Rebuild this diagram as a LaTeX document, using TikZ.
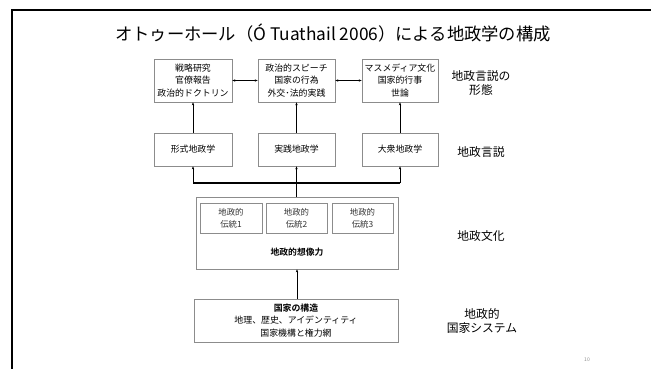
\documentclass[tikz,border=0pt]{standalone}
\usepackage{fontspec}
\setmainfont{Noto Sans CJK JP}[BoldFont={Noto Sans CJK JP Bold}]
\usetikzlibrary{arrows.meta}
\tikzset{
  box/.style={draw=black!45, line width=0.7pt, inner sep=1pt, align=center, font=\fontsize{8.9}{12.5}\selectfont},
  inbox/.style={box, font=\fontsize{8.4}{12}\selectfont, text=black!80},
  lab/.style={align=center, font=\fontsize{11.8}{14.5}\selectfont},
  arr/.style={-{Stealth[length=3pt,width=2.4pt]}, line width=0.5pt},
  darr/.style={{Stealth[length=3pt,width=2.4pt]}-{Stealth[length=3pt,width=2.4pt]}, line width=0.5pt},
  ln/.style={line width=0.5pt}
}
\begin{document}
\begin{tikzpicture}[x=1pt,y=-1pt]
\useasboundingbox (0,0) rectangle (651,369);
\fill[white] (0,0) rectangle (651,369);
% frame
\draw[line width=2pt] (11.5,369) -- (11.5,10.5) -- (651,10.5);
% title
\node[font=\fontsize{17.3}{19}\selectfont] (title) at (333,33) {オトゥーホール（Ó Tuathail 2006）による地政学の構成};
% top row
\node[box, minimum width=78pt, minimum height=43pt] (f1) at (193,80.5) {戦略研究\\官僚報告\\政治的ドクトリン};
\node[box, minimum width=77pt, minimum height=43pt] (f2) at (296.5,80.5) {政治的スピーチ\\国家の行為\\外交･法的実践};
\node[box, minimum width=76pt, minimum height=43pt] (f3) at (400,80.5) {マスメディア文化\\国家的行事\\世論};
% second row
\node[box, minimum width=78pt, minimum height=33pt] (d1) at (193,149.5) {形式地政学};
\node[box, minimum width=77pt, minimum height=33pt] (d2) at (296.5,149.5) {実践地政学};
\node[box, minimum width=76pt, minimum height=33pt] (d3) at (400,149.5) {大衆地政学};
% culture
\node[box, minimum width=202pt, minimum height=72pt] (cult) at (297,233) {};
\node[inbox, minimum width=62pt, minimum height=30pt] (t1) at (231,218) {地政的\\伝統1};
\node[inbox, minimum width=61pt, minimum height=30pt] (t2) at (296.5,218) {地政的\\伝統2};
\node[inbox, minimum width=61pt, minimum height=30pt] (t3) at (362.5,218) {地政的\\伝統3};
\node[font=\fontsize{8.8}{10}\selectfont\bfseries] (imag) at (297,252) {地政的想像力};
% state
\node[box, minimum width=204pt, minimum height=43pt] (state) at (296,320.5) {\textbf{国家の構造}\\地理、歴史、アイデンティティ\\国家機構と権力網};
% right labels
\node[lab] (l1) at (481,83) {地政言説の\\形態};
\node[lab] (l2) at (481,152) {地政言説};
\node[lab] (l3) at (481,236) {地政文化};
\node[lab] (l4) at (482,321) {地政的\\国家システム};
\node[font=\fontsize{5}{6}\selectfont, text=black!45] (pg) at (587,360) {10};
% connectors
\draw[darr] (f1.east) -- (f2.west);
\draw[darr] (f2.east) -- (f3.west);
\draw[arr] (d1.north) -- (f1.south);
\draw[arr] (d2.north) -- (f2.south);
\draw[arr] (d3.north) -- (f3.south);
\coordinate (bus) at (296.5,183);
\draw[line width=1.1pt] (d1.south |- bus) -- (d3.south |- bus);
\draw[arr] (d1.south |- bus) -- (d1.south);
\draw[arr] (bus) -- (d2.south);
\draw[arr] (d3.south |- bus) -- (d3.south);
\draw[ln] (bus) -- (bus |- cult.north);
\draw[arr] (state.north -| cult.south) -- (cult.south);
\end{tikzpicture}
\end{document}
